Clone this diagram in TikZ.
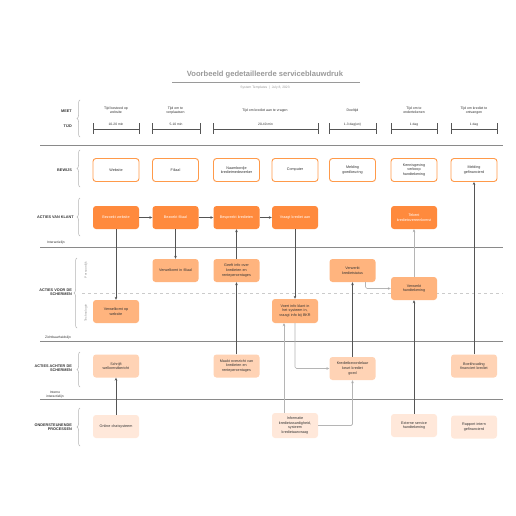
\documentclass[tikz,border=0pt]{standalone}
\usepackage{fontspec}
\setmainfont{Liberation Sans}
\usetikzlibrary{arrows.meta,decorations.pathreplacing}
\definecolor{dorange}{HTML}{FF8A3D}
\definecolor{morange}{HTML}{FFB47E}
\definecolor{borange}{HTML}{FFD3B5}
\definecolor{lorange}{HTML}{FFE8DA}
\definecolor{bord}{HTML}{FF9A4A}
\definecolor{lane}{HTML}{8A8A8A}
\definecolor{conn}{HTML}{555555}
\definecolor{lconn}{HTML}{B5B5B5}
\definecolor{txt}{HTML}{333333}
\definecolor{ttl}{HTML}{9A9A9A}
\begin{document}
\begin{tikzpicture}[x=1pt,y=-1pt,
  box/.style={rounded corners=3pt, minimum width=46pt, minimum height=23pt, align=center,
    text width=44pt, font=\fontsize{3.7}{4.6}\selectfont, inner sep=1pt},
  evid/.style={box, draw=bord, line width=0.9pt, fill=white, text=txt, minimum height=23pt},
  cust/.style={box, fill=dorange, text=white},
  front/.style={box, fill=morange, text=txt},
  backb/.style={box, fill=borange, text=txt},
  supb/.style={box, fill=lorange, text=txt},
  arr/.style={draw=conn, line width=0.7pt, -{Stealth[length=3pt,width=2.6pt]}},
  larr/.style={draw=lconn, line width=0.7pt, rounded corners=1.5pt, arrows={-{Stealth[length=3pt,width=2.6pt,fill=conn]}}},
  laneline/.style={draw=lane, line width=0.6pt},
  lbl/.style={font=\fontsize{3.8}{4.6}\selectfont\bfseries, text=txt, align=right, anchor=east, inner sep=0pt},
  small/.style={font=\fontsize{3.3}{4.1}\selectfont, text=txt, inner sep=0pt},
  hdr/.style={font=\fontsize{3.5}{4.3}\selectfont, text=txt, align=center, inner sep=0pt},
  brc/.style={draw=lconn, line width=0.5pt, decorate, decoration={brace, amplitude=3pt}},
  tl/.style={draw=conn, line width=0.7pt},
]
\useasboundingbox (0,0) rectangle (516,516);
\fill[white] (0,0) rectangle (516,516);

% title
\node[font=\fontsize{7.6}{9}\selectfont\bfseries, text=ttl, inner sep=0pt] (title) at (265,75) {Voorbeeld gedetailleerde serviceblauwdruk};
\draw[draw=ttl, line width=0.5pt] (172,82) -- (360,82);
\node[font=\fontsize{3.3}{4}\selectfont, text=ttl, inner sep=0pt] (sub) at (265,88) {System Templates \ \textbar\ \ July 8, 2023};

% lane labels
\node[lbl] (lmeet) at (72,111) {MEET};
\node[lbl] (ltijd) at (72,126) {TIJD};
\node[lbl] (lbew) at (72,170) {BEWIJS};
\node[lbl] (lkl) at (74,217) {ACTIES VAN KLANT};
\node[lbl] (lvoor) at (72,292) {ACTIES VOOR DE\\SCHERMEN};
\node[lbl] (lach) at (72,368) {ACTIES ACHTER DE\\SCHERMEN};
\node[lbl] (lond) at (72,427) {ONDERSTEUNENDE\\PROCESSEN};

% braces
\draw[brc] (80,137) -- (80,100);
\draw[brc] (80,187) -- (80,150);
\draw[brc] (80,236) -- (80,198);
\draw[brc] (77,328) -- (77,258);
\draw[brc] (80,387) -- (80,352);
\draw[brc] (80,446) -- (80,408);

% sub labels
\node[small, rotate=90, text=ttl] (lpers) at (86,270) {Persoonlijk};
\node[small, rotate=90, text=ttl] (ltech) at (86,313) {Technologie};

% lane lines
\draw[laneline] (40,145) -- (503,145);
\draw[laneline] (40,247) -- (503,247);
\draw[laneline] (40,341) -- (503,341);
\draw[laneline] (40,399) -- (503,399);
\draw[draw=lconn!70, line width=0.5pt, dashed] (82,293) -- (503,293);
\node[small, anchor=west] (linter) at (47,243) {Interactielijn};
\node[small, anchor=west] (lzicht) at (45,337.5) {Zichtbaarheidslijn};
\node[small, align=center] (linint) at (55,395) {Interne\\interactielijn};

% headers MEET
\node[hdr] (h1) at (116,110.5) {Tijd besteed op\\website};
\node[hdr] (h2) at (175.5,110.5) {Tijd om te\\verplaatsen};
\node[hdr] (h3) at (265,111) {Tijd om krediet aan te vragen};
\node[hdr] (h4) at (352.5,111) {Doeltijd};
\node[hdr] (h5) at (414,110.5) {Tijd om te\\ondertekenen};
\node[hdr] (h6) at (474,110.5) {Tijd om krediet te\\ontvangen};

% timelines
\foreach \a/\b/\t [count=\i] in {93/139/10-20 min, 152/200/5-10 min, 213/318/20-40 min, 329/376/1-3 dag(en), 391/437/1 dag, 451/497/1 dag}{
  \draw[tl] (\a,129) -- (\b,129);
  \draw[tl] (\a,123) -- (\a,134);
  \draw[tl] (\b,123) -- (\b,134);
  \node[small] (t\i) at ({(\a+\b)/2},124.5) {\t};
}

% BEWIJS
\node[evid] (e1) at (116,170) {Website};
\node[evid] (e2) at (175.5,170) {Filiaal};
\node[evid] (e3) at (236.5,170) {Naambordje\\kredietmedewerker};
\node[evid] (e4) at (295,170) {Computer};
\node[evid] (e5) at (352.5,170) {Melding\\goedkeuring};
\node[evid] (e6) at (414,170) {Kennisgeving\\verkoop\\handtekening};
\node[evid] (e7) at (474,170) {Melding\\gefinancierd};

% ACTIES VAN KLANT
\node[cust] (k1) at (116,217.5) {Bezoekt website};
\node[cust] (k2) at (175.5,217.5) {Bezoekt filiaal};
\node[cust] (k3) at (236.5,217.5) {Bespreekt kredieten};
\node[cust] (k4) at (295,217.5) {Vraagt krediet aan};
\node[cust] (k6) at (414,217.5) {Tekent\\kredietovereenkomst};

% ACTIES VOOR DE SCHERMEN
\node[front] (f2) at (175.5,270.5) {Verwelkomt in filiaal};
\node[front] (f3) at (236.5,270.5) {Geeft info over\\kredieten en\\rentepercentages};
\node[front] (f5) at (352.5,270.5) {Verwerkt\\kredietstatus};
\node[front] (f1) at (116,311.5) {Verwelkomt op\\website};
\node[front, minimum height=24pt] (f4) at (295,311) {Voert info klant in\\het systeem in,\\vraagt info bij BKR};
\node[front] (f6) at (414,288.5) {Verwerkt\\handtekening};

% ACTIES ACHTER DE SCHERMEN
\node[backb] (b1) at (116,366) {Schrijft\\welkomstbericht};
\node[backb] (b3) at (236.5,366) {Maakt overzicht van\\kredieten en\\rentepercentages};
\node[backb] (b5) at (352.5,368.5) {Kredietbeoordelaar\\keurt krediet\\goed};
\node[backb] (b7) at (474,366) {Boekhouding\\financiert krediet};

% ONDERSTEUNENDE PROCESSEN
\node[supb] (s1) at (116,426.5) {Online chatsysteem};
\node[supb, minimum height=25pt] (s4) at (295,425.5) {Informatie\\kredietwaardigheid,\\systeem\\kredietaanvraag};
\node[supb] (s6) at (414,425.5) {Externe service\\handtekening};
\node[supb] (s7) at (474,427) {Rapport intern\\gefinancierd};

% connectors
\draw[arr] (k1) -- (k2);
\draw[arr] (k2) -- (k3);
\draw[arr] (k3) -- (k4);
\draw[arr] (k1) -- (f1);
\draw[arr] (k2) -- (f2);
\draw[arr] (f3) -- (k3);
\draw[arr] (b3) -- (f3);
\draw[arr] (k4) -- (f4);
\draw[larr] (f4.south) |- (b5.west);
\draw[larr] ([xshift=-11pt]s4.north) -- ([xshift=-11pt]f4.south);
\draw[larr] (s4.east) -| (b5.south);
\draw[arr] (b5) -- (f5);
\draw[larr] ([xshift=13pt]f5.south) |- (f6.west);
\draw[arr] (s6) -- (f6);
\draw[larr] (f6) -- (k6);
\draw[arr] (b7) -- (e7);
\draw[arr] (s1) -- (b1);
\end{tikzpicture}
\end{document}
